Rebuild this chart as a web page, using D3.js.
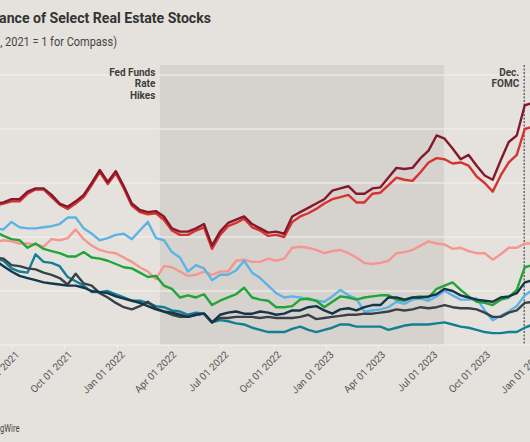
<!DOCTYPE html>
<html><head><meta charset="utf-8">
<script src="https://cdn.jsdelivr.net/npm/d3@7"></script>
<style>
html,body{margin:0;padding:0;background:#e5e2de;overflow:hidden}
svg{display:block}
text{font-family:Roboto,"Noto Sans",sans-serif}
</style></head><body>
<svg id="chart" width="530" height="442"></svg>
<script>
// ---- data ----
const dates = [
"2021-06-03","2021-06-17","2021-07-01","2021-07-15","2021-07-29","2021-08-12","2021-08-26","2021-09-09","2021-09-23","2021-10-07","2021-10-21","2021-11-04","2021-11-18","2021-12-02","2021-12-16","2021-12-30",
"2022-01-13","2022-01-27","2022-02-10","2022-02-24","2022-03-10","2022-03-24","2022-04-07","2022-04-21","2022-05-05","2022-05-19","2022-06-02","2022-06-16","2022-06-30","2022-07-14","2022-07-28","2022-08-11","2022-08-25","2022-09-08","2022-09-22","2022-10-06","2022-10-20","2022-11-03","2022-11-17","2022-12-01","2022-12-15","2022-12-29",
"2023-01-12","2023-01-26","2023-02-09","2023-02-23","2023-03-09","2023-03-23","2023-04-06","2023-04-20","2023-05-04","2023-05-18","2023-06-01","2023-06-15","2023-06-29","2023-07-13","2023-07-27","2023-08-10","2023-08-24","2023-09-07","2023-09-21","2023-10-05","2023-10-19","2023-11-02","2023-11-16","2023-11-30","2023-12-14","2023-12-28"];

const darkRedSeries = [1.31,1.32,1.35,1.35,1.42,1.45,1.45,1.39,1.31,1.28,1.33,1.39,1.50,1.62,1.51,1.61,1.47,1.31,1.25,1.23,1.24,1.19,1.08,1.05,1.05,1.08,1.12,0.92,1.05,1.13,1.16,1.19,1.12,1.08,1.04,1.05,1.03,1.19,1.23,1.27,1.31,1.35,1.43,1.45,1.47,1.40,1.40,1.45,1.46,1.55,1.64,1.63,1.64,1.73,1.80,1.94,1.91,1.82,1.72,1.76,1.66,1.57,1.53,1.71,1.88,1.94,2.22,2.24];
const redSeries = [1.29,1.31,1.33,1.33,1.40,1.44,1.44,1.37,1.30,1.26,1.31,1.37,1.48,1.60,1.49,1.59,1.45,1.29,1.23,1.21,1.22,1.16,1.06,1.02,1.02,1.06,1.09,0.89,1.02,1.10,1.13,1.17,1.09,1.06,1.01,1.02,1.00,1.14,1.19,1.22,1.26,1.31,1.35,1.37,1.39,1.32,1.32,1.40,1.41,1.48,1.55,1.53,1.52,1.60,1.69,1.73,1.72,1.68,1.69,1.66,1.56,1.50,1.42,1.57,1.69,1.76,2.00,2.02];
const lightBlueSeries = [1.08,1.07,1.14,1.09,1.08,1.08,1.09,1.10,1.12,1.18,1.18,1.08,1.03,0.97,0.99,1.02,1.03,0.98,1.06,1.14,0.99,0.97,0.86,0.81,0.68,0.74,0.71,0.60,0.65,0.65,0.69,0.78,0.67,0.62,0.55,0.48,0.44,0.45,0.44,0.42,0.41,0.40,0.45,0.51,0.46,0.43,0.31,0.32,0.33,0.35,0.40,0.38,0.42,0.43,0.41,0.45,0.50,0.46,0.42,0.42,0.43,0.32,0.23,0.27,0.31,0.36,0.46,0.51];
const salmonSeries = [0.95,0.97,0.96,0.94,0.94,0.93,0.91,0.98,0.97,0.99,1.07,0.98,0.92,0.88,0.86,0.85,0.81,0.77,0.72,0.68,0.61,0.73,0.72,0.68,0.64,0.65,0.68,0.65,0.68,0.68,0.78,0.79,0.77,0.77,0.80,0.78,0.80,0.90,0.91,0.90,0.88,0.85,0.87,0.88,0.85,0.81,0.76,0.75,0.76,0.78,0.85,0.86,0.88,0.92,0.96,0.94,0.93,0.89,0.90,0.87,0.85,0.85,0.79,0.84,0.90,0.90,0.94,0.94];
const greenSeries = [1.05,1.01,0.98,0.97,0.90,0.94,0.89,0.87,0.85,0.82,0.82,0.86,0.81,0.80,0.78,0.75,0.72,0.71,0.67,0.63,0.64,0.55,0.52,0.44,0.46,0.44,0.47,0.37,0.41,0.44,0.47,0.53,0.44,0.42,0.41,0.35,0.35,0.36,0.42,0.43,0.41,0.35,0.40,0.45,0.44,0.42,0.44,0.45,0.46,0.46,0.42,0.41,0.44,0.45,0.44,0.52,0.55,0.58,0.51,0.45,0.40,0.39,0.37,0.42,0.44,0.51,0.72,0.74];
const tealSeries = [0.80,0.78,0.71,0.68,0.67,0.84,0.77,0.76,0.73,0.63,0.59,0.55,0.49,0.49,0.50,0.47,0.44,0.41,0.41,0.39,0.36,0.35,0.32,0.31,0.28,0.30,0.29,0.21,0.23,0.22,0.20,0.19,0.16,0.14,0.12,0.12,0.12,0.15,0.17,0.14,0.12,0.14,0.16,0.19,0.19,0.17,0.17,0.17,0.17,0.14,0.16,0.18,0.19,0.19,0.19,0.20,0.21,0.19,0.17,0.16,0.14,0.12,0.11,0.11,0.12,0.12,0.16,0.19];
const navySeries = [0.78,0.73,0.68,0.64,0.62,0.60,0.58,0.57,0.56,0.55,0.55,0.53,0.50,0.49,0.48,0.45,0.43,0.41,0.39,0.36,0.33,0.31,0.30,0.28,0.26,0.28,0.29,0.21,0.28,0.30,0.31,0.29,0.29,0.31,0.30,0.28,0.29,0.32,0.32,0.35,0.36,0.32,0.29,0.33,0.34,0.32,0.35,0.37,0.37,0.44,0.44,0.42,0.44,0.44,0.45,0.47,0.52,0.50,0.46,0.44,0.42,0.41,0.40,0.44,0.45,0.48,0.58,0.60];
const charcoalSeries = [0.81,0.80,0.74,0.73,0.71,0.70,0.67,0.65,0.62,0.56,0.66,0.57,0.55,0.48,0.44,0.39,0.35,0.33,0.36,0.40,0.34,0.31,0.28,0.26,0.26,0.28,0.29,0.21,0.25,0.25,0.26,0.26,0.26,0.25,0.26,0.25,0.25,0.25,0.26,0.28,0.24,0.25,0.26,0.27,0.28,0.28,0.29,0.29,0.30,0.31,0.33,0.32,0.33,0.35,0.34,0.35,0.37,0.35,0.34,0.34,0.33,0.30,0.26,0.26,0.30,0.32,0.39,0.40];

const yTicks = [0, 0.5, 1, 1.5, 2, 2.5];
const xTickDates = ["2021-04-01","2021-07-01","2021-10-01","2022-01-01","2022-04-01","2022-07-01","2022-10-01","2023-01-01","2023-04-01","2023-07-01","2023-10-01","2024-01-01"];
const hikeStart = "2022-03-17", hikeEnd = "2023-07-26", fomcDate = "2023-12-13";

const series = [
  {name:"salmon",   values:salmonSeries,   color:"#f5968f"},
  {name:"lightBlue",values:lightBlueSeries,color:"#5cb4e4"},
  {name:"green",    values:greenSeries,    color:"#22a437"},
  {name:"teal",     values:tealSeries,     color:"#137f94"},
  {name:"charcoal", values:charcoalSeries, color:"#3a4146"},
  {name:"navy",     values:navySeries,     color:"#15354a"},
  {name:"red",      values:redSeries,      color:"#d8322f"},
  {name:"darkRed",  values:darkRedSeries,  color:"#85182b"}
];

// ---- chart ----
const parse = d3.utcParse("%Y-%m-%d");
const svg = d3.select("#chart");
const plotTop = 65, plotBottom = 345;

const x = d3.scaleUtc().domain([parse("2021-04-01"), parse("2024-01-01")]).range([-40.6, 535.1]);
const y = d3.scaleLinear().domain([0, 2.5]).range([plotBottom, 75]);

svg.append("rect").attr("width",530).attr("height",442).attr("fill","#e5e2de");

// shaded Fed hikes
svg.append("rect")
  .attr("x", x(parse(hikeStart))).attr("y", plotTop)
  .attr("width", x(parse(hikeEnd)) - x(parse(hikeStart)))
  .attr("height", plotBottom - plotTop)
  .attr("fill", "#d6d3cf");

// gridlines
svg.append("g").selectAll("line").data(yTicks).join("line")
  .attr("x1", -50).attr("x2", 540)
  .attr("y1", d => y(d)).attr("y2", d => y(d))
  .attr("stroke", "#f4f2ef").attr("stroke-width", 1);

// x axis
const xAxis = d3.axisBottom(x)
  .tickValues(xTickDates.map(parse))
  .tickFormat(d3.utcFormat("%b %d %Y"))
  .tickSize(4).tickPadding(3);
const gx = svg.append("g").attr("transform", `translate(0,${plotBottom})`).call(xAxis);
gx.select(".domain").remove();
gx.selectAll(".tick line").attr("stroke", "#f4f2ef");
gx.selectAll(".tick text")
  .attr("fill", "#555").attr("font-size", 10)
  .attr("font-family", "Roboto, sans-serif")
  .attr("text-anchor", "end")
  .attr("transform", "translate(2,0) rotate(-45)")
  .attr("dx", "-0.3em").attr("dy", "0.55em").attr("y", 6).attr("x", 0);

// dotted FOMC line
svg.append("line")
  .attr("x1", x(parse(fomcDate))).attr("x2", x(parse(fomcDate)))
  .attr("y1", plotTop).attr("y2", plotBottom)
  .attr("stroke", "#555").attr("stroke-width", 1.3).attr("stroke-dasharray", "2,1.5");

// lines
const line = d3.line().x((d,i) => x(parse(dates[i]))).y(d => y(d));
svg.append("g").selectAll("path").data(series).join("path")
  .attr("d", s => line(s.values))
  .attr("fill", "none")
  .attr("stroke", s => s.color)
  .attr("stroke-width", 2.4)
  .attr("stroke-linejoin", "round").attr("stroke-linecap", "round");

// annotations
const fedX = x(parse(hikeStart)) - 4.5;
svg.append("text").attr("text-anchor","end").attr("font-size",10).attr("font-weight",700).attr("fill","#3d3d3d")
  .selectAll("tspan").data(["Fed Funds","Rate","Hikes"]).join("tspan")
  .attr("x", fedX).attr("y", (d,i) => 75.5 + i*11.6).text(d => d);
const fomcX = x(parse(fomcDate)) - 5;
svg.append("text").attr("text-anchor","end").attr("font-size",10).attr("font-weight",700).attr("fill","#3d3d3d")
  .selectAll("tspan").data(["Dec.","FOMC"]).join("tspan")
  .attr("x", fomcX).attr("y", (d,i) => 75.5 + i*11.6).text(d => d);

// title + subtitle + source (condensed by horizontal scaling)
function condensed(txt, part, size, weight, color, targetW, endX, baseY) {
  const t = svg.append("text").attr("text-anchor","end").attr("font-size",size)
    .attr("font-weight",weight).attr("fill",color).text(txt);
  const tmp = svg.append("text").attr("font-size",size).attr("font-weight",weight).text(part);
  const w = tmp.node().getComputedTextLength(); tmp.remove();
  t.attr("transform", `translate(${endX},${baseY}) scale(${targetW/w},1)`);
}
condensed("Relative Performance of Select Real Estate Stocks", "ance of Select Real Estate Stocks", 15.5, 700, "#333", 212, 211, 23.3);
condensed("(Indexed: April 1, 2021 = 1 for Compass)", "2021 = 1 for Compass)", 12, 400, "#444", 112, 117, 45.5);
condensed("Chart: HousingWire", "gWire", 10, 400, "#444", 19.5, 19.5, 432);
</script>
</body></html>
